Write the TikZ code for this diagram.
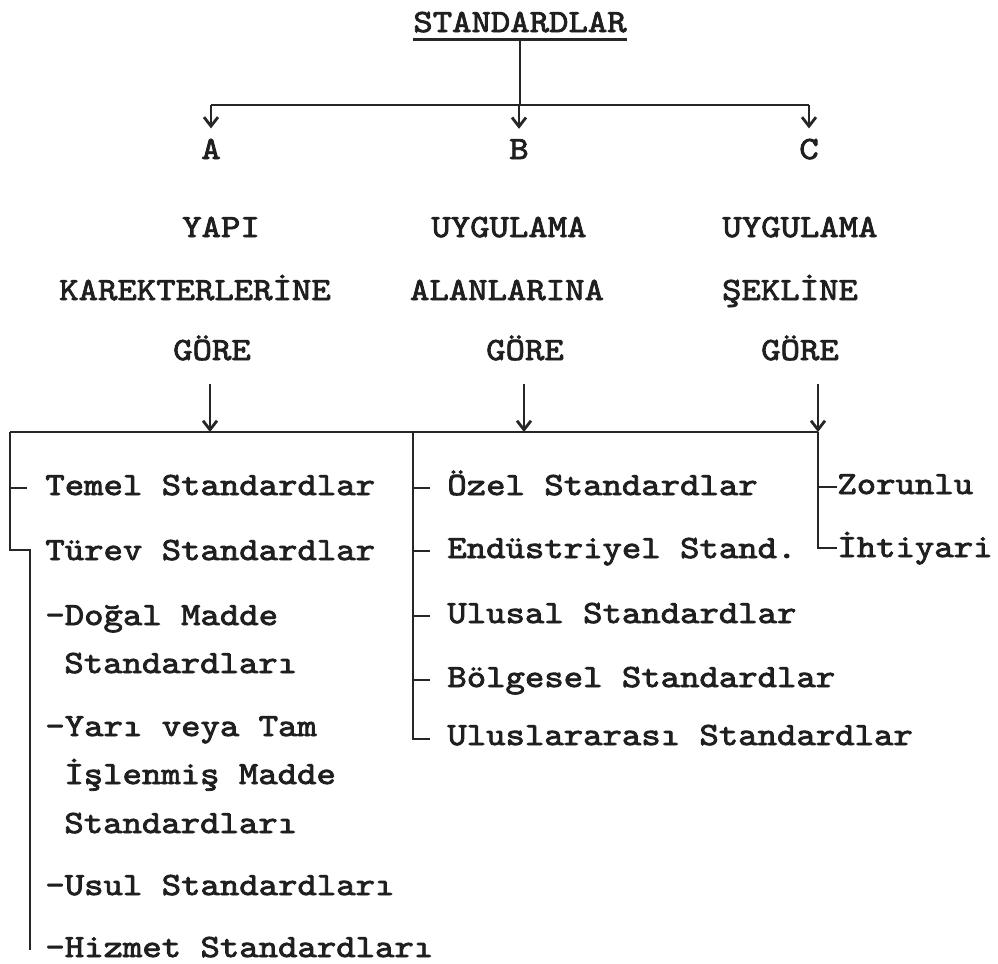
\documentclass[tikz,border=0pt]{standalone}
\usepackage{fontspec}
\newfontfamily\tw{lmmono10-regular.otf}[FakeStretch=1.14,FakeBold=2.5]
\usetikzlibrary{arrows.meta}
\begin{document}
\begin{tikzpicture}[x=0.5pt,y=-0.5pt,
  txt/.style={font=\tw\fontsize{16.2}{18}\selectfont, inner sep=0pt, anchor=base west, text=black!88},
  ctxt/.style={txt, anchor=base},
  ln/.style={line width=1.4pt, draw=black!85},
  arr/.style={ln, -{Straight Barb[length=4.5pt,width=7pt]}}]
\useasboundingbox (0,0) rectangle (998,964);
\fill[white] (0,0) rectangle (998,964);

% top
\node[ctxt] (root) at (520,32) {STANDARDLAR};
\draw[ln] ([yshift=-3.5pt]root.south west) -- ([yshift=-3.5pt]root.south east);
\coordinate (ul) at ([yshift=-3.5pt]root.south);
\coordinate (bus) at (520,105);

\node[ctxt] (A) at (211,159) {A};
\node[ctxt] (B) at (519,159) {B};
\node[ctxt] (C) at (809,159) {C};

\draw[ln] (ul) -- (ul |- bus);
\draw[ln] (A.north |- bus) -- (C.north |- bus);
\draw[arr] (A.north |- bus) -- ([yshift=5pt]A.north);
\draw[arr] (B.north |- bus) -- ([yshift=5pt]B.north);
\draw[arr] (C.north |- bus) -- ([yshift=5pt]C.north);

% headings
\node[ctxt] (a1) at (221,237) {YAPI};
\node[ctxt] (a2) at (195,300) {KAREKTERLERİNE};
\node[ctxt] (a3) at (212,360) {GÖRE};
\node[ctxt] (b1) at (509,237) {UYGULAMA};
\node[ctxt] (b2) at (507,300) {ALANLARINA};
\node[ctxt] (b3) at (525,360) {GÖRE};
\node[ctxt] (c1) at (800,237) {UYGULAMA};
\node[ctxt] (c2) at (790,300) {ŞEKLİNE};
\node[ctxt] (c3) at (800,360) {GÖRE};

% second bus
\coordinate (ga0) at (210,384);
\coordinate (gb0) at (524,384);
\coordinate (gc0) at (818,384);
\coordinate (ga) at (210,432);
\coordinate (gb) at (524,432);
\coordinate (gc) at (818,432);
\coordinate (lx) at (10,432);
\coordinate (mx) at (413,432);
\draw[ln] (lx) -- (gc);
\draw[arr] (ga0) -- (ga);
\draw[arr] (gb0) -- (gb);
\draw[arr] (gc0) -- (gc);

% left column
\node[txt] (t1) at (45,495) {Temel Standardlar};
\node[txt] (t2) at (45,560) {Türev Standardlar};
\node[txt] (t3) at (45,625) {-Doğal Madde};
\node[txt] (t3b) at (64,673) {Standardları};
\node[txt] (t4) at (45,736) {-Yarı veya Tam};
\node[txt] (t4b) at (64,784) {İşlenmiş Madde};
\node[txt] (t4c) at (64,833) {Standardları};
\node[txt] (t5) at (45,895) {-Usul Standardları};
\node[txt] (t6) at (45,957) {-Hizmet Standardları};

\coordinate (lcorner) at (10,550);
\coordinate (lbot) at (30,950);
\draw[ln] (lx) -- (lcorner) -- (lcorner -| lbot) -- (lbot);
\draw[ln] (lx |- t1.base) ++(0,-7) -- ++(17,0);

% middle column
\node[txt] (m1) at (447,495) {Özel Standardlar};
\node[txt] (m2) at (447,558) {Endüstriyel Stand.};
\node[txt] (m3) at (447,623) {Ulusal Standardlar};
\node[txt] (m4) at (447,687) {Bölgesel Standardlar};
\node[txt] (m5) at (447,745) {Uluslararası Standardlar};

\draw[ln] (mx) -- ([yshift=3pt]mx |- m5.base) -- ++(17,0);
\foreach \n in {m1,m2,m3,m4}
  \draw[ln] (mx |- \n.base) ++(0,-7) -- ++(17,0);

% right column
\node[txt] (r1) at (837,494) {Zorunlu};
\node[txt] (r2) at (837,557) {İhtiyari};
\draw[ln] (gc) -- ([yshift=4.5pt]gc |- r2.base) -- ++(19,0);
\draw[ln] (gc |- r1.base) ++(0,-7) -- ++(19,0);
\end{tikzpicture}
\end{document}
